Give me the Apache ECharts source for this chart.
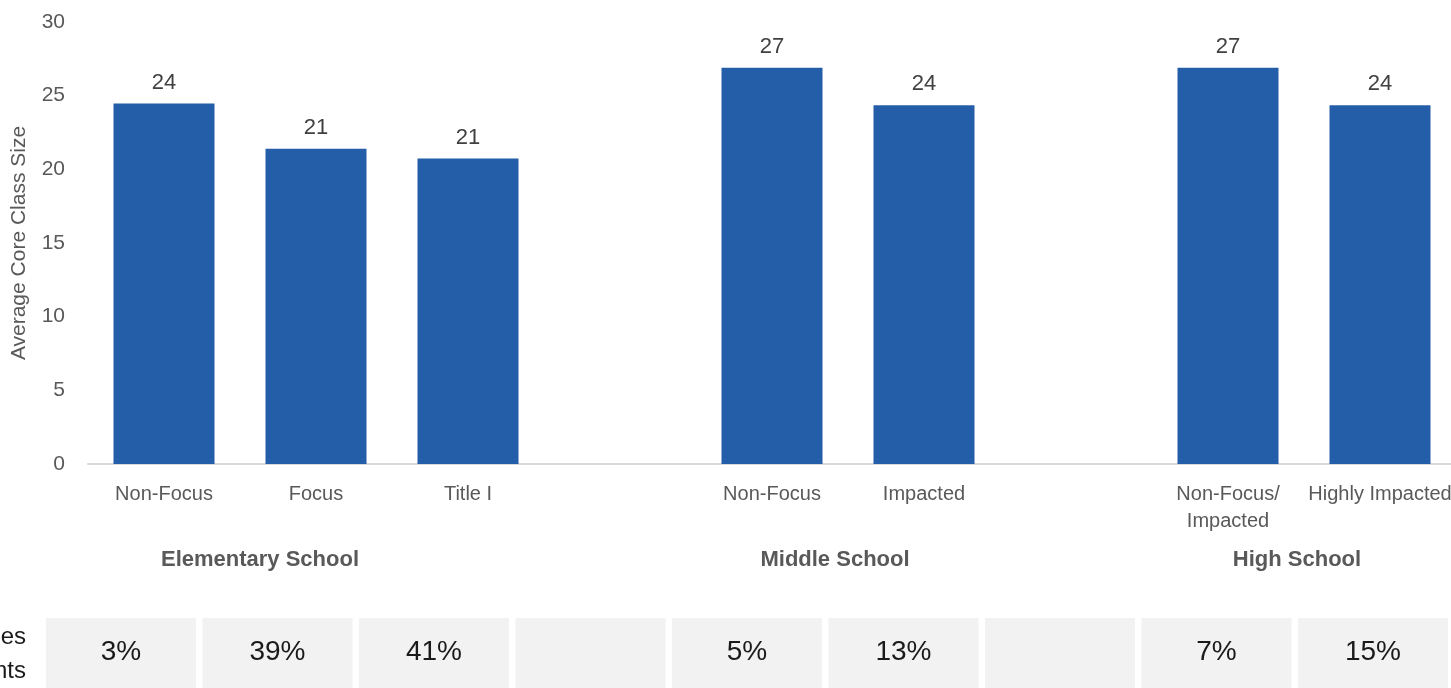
<!DOCTYPE html>
<html>
<head>
<meta charset="utf-8">
<script src="https://cdn.jsdelivr.net/npm/echarts@6/dist/echarts.min.js"></script>
<style>
  html, body { margin: 0; padding: 0; background: #ffffff; }
  #chart { width: 1451px; height: 688px; }
</style>
</head>
<body>
<div id="chart"></div>
<script>
// ---- data ----
const categories = ["Non-Focus", "Focus", "Title I", "", "Non-Focus", "Impacted", "", "Non-Focus/\nImpacted", "Highly Impacted"];
const classSize = [24.46, 21.4, 20.73, null, 26.9, 24.35, null, 26.9, 24.35];
const shareLabels = ["3%", "39%", "41%", "", "5%", "13%", "", "7%", "15%"];
const groupNames = ["Elementary School", "Middle School", "High School"];
const yTicks = { min: 0, max: 30, interval: 5 };
const yAxisTitle = "Average Core Class Size";
const tableRowTitle = "% of Classes\nwith Focus Students";

const FONT = "'Liberation Sans Narrow', 'Arial Narrow', 'Liberation Sans', sans-serif";
const chart = echarts.init(document.getElementById('chart'), null, { renderer: 'canvas' });

const groupX = [260, 835, 1297];

const option = {
  backgroundColor: '#ffffff',
  animation: false,
  textStyle: { fontFamily: FONT },
  grid: [
    { left: 88, top: 22, width: 1368, height: 442, containLabel: false, outerBoundsMode: 'none' },
    { left: 42.75, top: 618, width: 1408.5, height: 70, containLabel: false, outerBoundsMode: 'none' }
  ],
  xAxis: [
    {
      type: 'category', gridIndex: 0, data: categories,
      axisLine: { show: true, lineStyle: { color: '#d9d9d9', width: 2 } },
      axisTick: { show: false },
      axisLabel: {
        interval: 0, color: '#595959', fontSize: 20, fontFamily: FONT,
        margin: 17, lineHeight: 27
      }
    },
    {
      type: 'category', gridIndex: 1, data: shareLabels,
      axisLine: { show: false }, axisTick: { show: false }, axisLabel: { show: false }
    }
  ],
  yAxis: [
    {
      type: 'value', gridIndex: 0,
      min: yTicks.min, max: yTicks.max, interval: yTicks.interval,
      splitLine: { show: false }, axisLine: { show: false }, axisTick: { show: false },
      axisLabel: { color: '#595959', fontSize: 21, fontFamily: FONT, margin: 23 },
      name: yAxisTitle, nameLocation: 'middle', nameGap: 58,
      nameTextStyle: { color: '#595959', fontSize: 21, fontFamily: FONT }
    },
    {
      type: 'value', gridIndex: 1, min: 0, max: 1,
      show: false
    }
  ],
  series: [
    {
      type: 'bar', xAxisIndex: 0, yAxisIndex: 0,
      data: classSize,
      barWidth: 101,
      itemStyle: { color: '#255ea8' },
      label: {
        show: true, position: 'top', distance: 10,
        color: '#404040', fontSize: 22, fontFamily: FONT,
        formatter: p => (p.value == null ? '' : String(Math.round(p.value)))
      }
    },
    {
      type: 'bar', xAxisIndex: 1, yAxisIndex: 1,
      data: shareLabels.map(() => 1),
      barWidth: 150,
      itemStyle: { color: '#f2f2f2' },
      silent: true,
      label: {
        show: true, position: 'inside',
        color: '#1a1a1a', fontSize: 28, fontFamily: FONT,
        offset: [0, -1],
        formatter: p => shareLabels[p.dataIndex]
      }
    }
  ],
  graphic: [
    ...groupNames.map((g, i) => ({
      type: 'text',
      position: [groupX[i], 560],
      style: {
        text: g, x: 0, y: 0, textAlign: 'center', textVerticalAlign: 'middle',
        fill: '#595959', font: 'bold 22px ' + FONT
      }
    })),
    {
      type: 'text', position: [26, 654],
      style: {
        text: tableRowTitle, textAlign: 'right', textVerticalAlign: 'middle',
        fill: '#1a1a1a', font: '24px ' + FONT, lineHeight: 34
      }
    }
  ]
};
chart.setOption(option);
</script>
</body>
</html>
